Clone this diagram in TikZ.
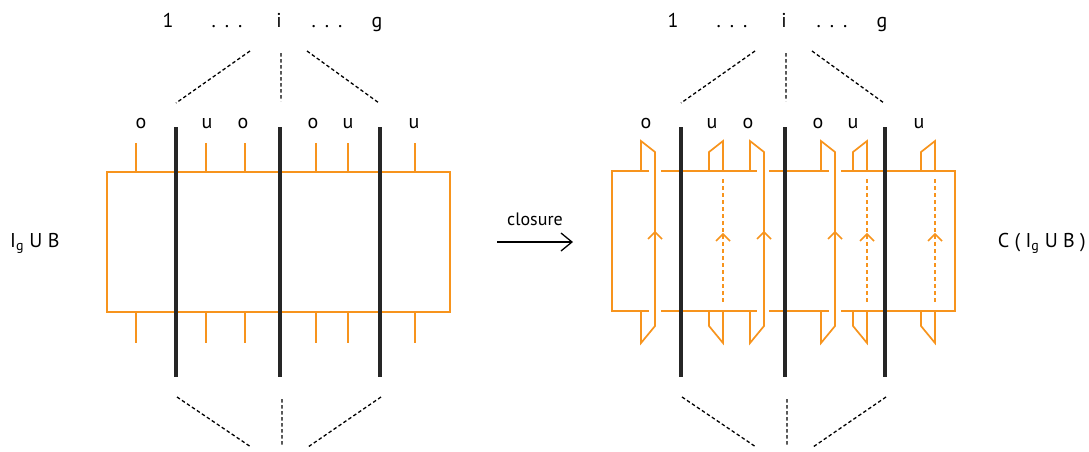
\documentclass[tikz,border=0pt]{standalone}
\usepackage{fontspec}
\setmainfont{PT Sans}
\usetikzlibrary{arrows.meta}
\definecolor{knot}{RGB}{247,148,29}
\begin{document}
\begin{tikzpicture}[x=1pt,y=-1pt,font=\fontsize{20}{22}\selectfont,line join=miter,
    strand/.style={knot,line width=1.7pt},
    hidden/.style={knot,line width=1.7pt,dash pattern=on 4pt off 3pt},
    braid/.style={line width=3.4pt,black!85},
    guide/.style={line width=1.3pt,dash pattern=on 3.5pt off 2.5pt}]
    \useasboundingbox (0,0) rectangle (1089,451);
    \def\yt{127} \def\yb{377} \def\dots{.\hspace{9pt}.\hspace{9pt}.}
    % left: I_g U B
    \draw[strand] (107,172) rectangle (450,312);
    \foreach \t in {136,206,245,316,348,415}
        \draw[strand] (\t,143)--(\t,172) (\t,312)--(\t,343);
    % right: the closure
    \draw[strand] (649,171)--(612,171)--(612,311)--(649,311)
        (661,171)--(757,171) (661,311)--(757,311)
        (769,171)--(829,171) (769,311)--(829,311)
        (841,171)--(955,171)--(955,311)--(841,311);
    \foreach \t in {641,750,821}{% o
        \draw[strand] (\t,171)--(\t,141)--(\t+14,152)--(\t+14,326)--(\t,343)--(\t,311);
        \draw[strand] (\t+7,239)--(\t+14,232)--(\t+21,239);
    }
    \foreach \t in {709,853,921}{% u
        \draw[strand] (\t,171)--(\t,152)--(\t+14,141)--(\t+14,171)
            (\t,311)--(\t,326)--(\t+14,343)--(\t+14,311);
        \draw[hidden] (\t+14,179)--(\t+14,303);
        \draw[strand] (\t+7,241)--(\t+14,234)--(\t+21,241);
    }
    % braid strands, labels and guides on both sides
    \foreach \dx in {0,505}{
    \begin{scope}[xshift=\dx]
        \foreach \s in {176,280,380} \draw[braid] (\s,\yt)--(\s,\yb);
        \node[anchor=base] (one) at (168,27) {1};
        \node[anchor=base] (dl) at (227,27) {\dots};
        \node[anchor=base] (i) at (279,27) {i};
        \node[anchor=base] (dr) at (327,27) {\dots};
        \node[anchor=base] (g) at (377,27) {g};
        \foreach \t/\c [count=\k] in {141/o,207/u,243/o,313/o,348/u,414/u}
            \node[anchor=base,inner sep=0pt] (lab\k) at (\t,128) {\c};
        \draw[guide] (250,51)--(176,103) (281,53)--(281,101) (307,51)--(379,103);
        \draw[guide] (177,397)--(251,447) (282,399)--(282,446) (381,397)--(308,447);
    \end{scope}
    }
    \node[anchor=base west,inner sep=0pt] (tangle) at (10,247) {I\textsubscript{g} U B};
    \node[anchor=base east,inner sep=0pt] (closed) at (1086,247) {C ( I\textsubscript{g} U B )};
    \coordinate (from) at (497,242); \coordinate (to) at (573,242);
    \draw[line width=1.3pt,-{Straight Barb[length=11pt,width=18pt]}] (from)--(to)
        node[midway,above=12pt,font=\fontsize{18}{20}\selectfont] (cl) {closure};
\end{tikzpicture}
\end{document}
